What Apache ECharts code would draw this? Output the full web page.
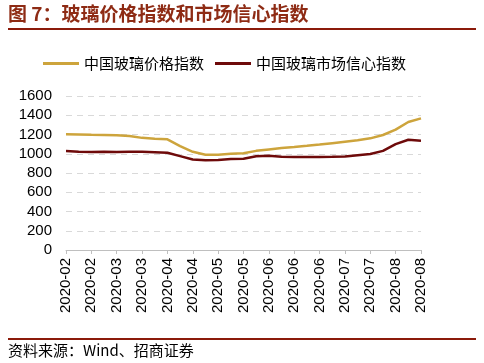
<!DOCTYPE html>
<html>
<head>
<meta charset="utf-8">
<script src="https://cdn.jsdelivr.net/npm/echarts@6/dist/echarts.min.js"></script>
<style>
html,body{margin:0;padding:0;background:#fff;}
#wrap{position:relative;width:484px;height:363px;overflow:hidden;}
#chart{position:absolute;left:0;top:0;width:484px;height:363px;}
</style>
</head>
<body>
<div id="wrap"><div id="chart"></div></div>
<script>
const titleText = '图 7：玻璃价格指数和市场信心指数';
const sourceText = '资料来源：Wind、招商证券';
const seriesNames = ['中国玻璃价格指数', '中国玻璃市场信心指数'];
const dates = ['2020-02-10','2020-02-17','2020-02-24','2020-03-02','2020-03-09','2020-03-16','2020-03-23','2020-03-30',
  '2020-04-06','2020-04-13','2020-04-20','2020-04-27','2020-05-04','2020-05-11','2020-05-18','2020-05-25',
  '2020-06-01','2020-06-08','2020-06-15','2020-06-22','2020-06-29','2020-07-06','2020-07-13','2020-07-20',
  '2020-07-27','2020-08-03','2020-08-10','2020-08-17','2020-08-24'];
const priceIndex = [1202,1200,1197,1195,1192,1185,1165,1155,1150,1080,1020,990,990,1000,1005,1030,
  1045,1060,1070,1082,1095,1110,1125,1140,1160,1195,1250,1330,1368];
const confidenceIndex = [1028,1022,1018,1020,1018,1022,1020,1016,1010,975,940,932,935,945,948,975,
  978,970,965,965,966,968,972,985,998,1030,1100,1145,1136];
const yTicks = [0,200,400,600,800,1000,1200,1400,1600];

const chart = echarts.init(document.getElementById('chart'));
chart.setOption({
  animation: false,
  backgroundColor: '#fff',
  graphic: [
    {type:'text', left: 8, top: 4, style:{text: titleText, font:'bold 19px "Noto Sans CJK SC"', fill:'#8E2B14'}},
    {type:'rect', shape:{x:8, y:28, width:468, height:2}, style:{fill:'#8B1A0A'}},
    {type:'rect', shape:{x:8, y:338, width:468, height:2}, style:{fill:'#8B1A0A'}},
    {type:'text', left: 8, top: 343, style:{text: sourceText, font:'15px "Noto Sans CJK SC"', fill:'#000'}}
  ],
  legend: {
    top: 51, left: 38,
    itemWidth: 36, itemHeight: 3, itemGap: 11,
    icon: 'rect',
    textStyle: {fontFamily: '"Noto Sans CJK SC"', fontSize: 15, color: '#000'},
    data: seriesNames
  },
  grid: {left: 66, right: 63, top: 96, bottom: 113},
  xAxis: {
    type: 'category',
    data: dates,
    boundaryGap: false,
    axisLine: {lineStyle: {color: '#BFBFBF'}},
    axisTick: {interval: 1, length: 4, lineStyle: {color: '#BFBFBF'}},
    axisLabel: {interval: 1, rotate: 90, margin: 8, fontFamily: '"Liberation Sans", Arial', fontSize: 15, color: '#000',
      formatter: v => v.slice(0, 7)},
    splitLine: {show: false}
  },
  yAxis: {
    type: 'value', min: 0, max: 1600, interval: 200,
    axisLine: {show: false}, axisTick: {show: false},
    axisLabel: {margin: 14, fontFamily: '"Liberation Sans", Arial', fontSize: 15, color: '#000',
      formatter: v => yTicks.includes(v) ? String(v) : ''},
    splitLine: {lineStyle: {color: '#D9D9D9', type: [6, 5]}}
  },
  series: [
    {name: seriesNames[0], type: 'line', data: priceIndex, symbol: 'none', lineStyle: {color: '#CDA43C', width: 2.5}, itemStyle: {color: '#CDA43C'}},
    {name: seriesNames[1], type: 'line', data: confidenceIndex, symbol: 'none', lineStyle: {color: '#6E0A0A', width: 2.5}, itemStyle: {color: '#6E0A0A'}}
  ]
});
</script>
</body>
</html>
